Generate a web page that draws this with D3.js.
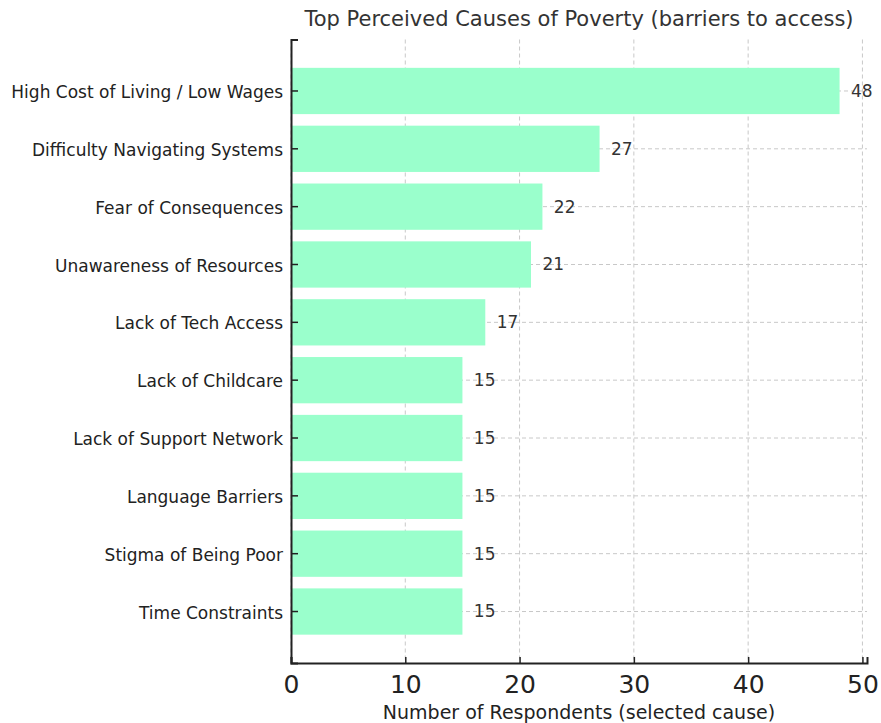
<!DOCTYPE html>
<html>
<head>
<meta charset="utf-8">
<script src="https://cdn.jsdelivr.net/npm/d3@7"></script>
<style>
  body { margin: 0; background: #fff; }
  text { font-family: "DejaVu Sans", sans-serif; }
</style>
</head>
<body>
<div id="graf"></div>
<script>
// data, top to bottom
const causes = [
  'High Cost of Living / Low Wages',
  'Difficulty Navigating Systems',
  'Fear of Consequences',
  'Unawareness of Resources',
  'Lack of Tech Access',
  'Lack of Childcare',
  'Lack of Support Network',
  'Language Barriers',
  'Stigma of Being Poor',
  'Time Constraints'
]
const respondents = [48, 27, 22, 21, 17, 15, 15, 15, 15, 15]
const xTicks = [0, 10, 20, 30, 40, 50]

const anchoTotal = 881
const altoTotal = 723
const margin = { top: 39.5, bottom: 60, left: 291, right: 14 }
const ancho = anchoTotal - margin.left - margin.right
const alto = altoTotal - margin.top - margin.bottom

const svg = d3.select('#graf')
  .append('svg')
  .attr('width', anchoTotal)
  .attr('height', altoTotal)

const g = svg.append('g')
  .attr('transform', `translate(${margin.left}, ${margin.top})`)

const x = d3.scaleLinear()
  .domain([0, 50.4])
  .range([0, ancho])

const y = d3.scaleBand()
  .domain(causes)
  .range([0, alto])
  .paddingInner(0.2)
  .paddingOuter(0.49)

// grid
g.append('g')
  .selectAll('line')
  .data(xTicks)
  .join('line')
  .attr('x1', d => x(d)).attr('x2', d => x(d))
  .attr('y1', 0).attr('y2', alto)
  .attr('stroke', '#c8c8c8')
  .attr('stroke-width', 1)
  .attr('stroke-dasharray', '4,3')

g.append('g')
  .selectAll('line')
  .data(causes)
  .join('line')
  .attr('x1', 0).attr('x2', ancho)
  .attr('y1', d => y(d) + y.bandwidth() / 2)
  .attr('y2', d => y(d) + y.bandwidth() / 2)
  .attr('stroke', '#c8c8c8')
  .attr('stroke-width', 1)
  .attr('stroke-dasharray', '4,3')

// bars
g.selectAll('rect')
  .data(causes)
  .join('rect')
  .attr('x', x(0))
  .attr('y', d => y(d))
  .attr('width', (d, i) => x(respondents[i]) - x(0))
  .attr('height', y.bandwidth())
  .attr('fill', '#9affcc')

// value labels
g.selectAll('text.valor')
  .data(causes)
  .join('text')
  .attr('class', 'valor')
  .attr('x', (d, i) => x(respondents[i] + 1))
  .attr('y', d => y(d) + y.bandwidth() / 2)
  .attr('dy', '0.35em')
  .attr('font-size', 17)
  .attr('fill', '#333')
  .text((d, i) => respondents[i])

// axes
const xAxisGroup = g.append('g')
  .attr('transform', `translate(0, ${alto})`)
  .call(d3.axisBottom(x).tickValues(xTicks).tickSize(-6).tickPadding(12))
xAxisGroup.select('.domain').attr('stroke', '#222').attr('stroke-width', 2)
xAxisGroup.selectAll('.tick line').attr('stroke', '#222').attr('stroke-width', 1.5)
xAxisGroup.selectAll('text')
  .attr('font-size', 25)
  .attr('fill', '#222')

const yAxisGroup = g.append('g')
  .call(d3.axisLeft(y).tickSize(-7).tickPadding(8))
yAxisGroup.select('.domain').attr('stroke', '#222').attr('stroke-width', 2)
yAxisGroup.selectAll('.tick line').attr('stroke', '#222').attr('stroke-width', 1.5)
yAxisGroup.selectAll('text')
  .attr('font-size', 17)
  .attr('dy', '0.42em')
  .attr('fill', '#222')

// titles
svg.append('text')
  .attr('x', margin.left + ancho / 2)
  .attr('y', 26)
  .attr('text-anchor', 'middle')
  .attr('font-size', 21)
  .attr('fill', '#333')
  .text('Top Perceived Causes of Poverty (barriers to access)')

svg.append('text')
  .attr('x', margin.left + ancho / 2)
  .attr('y', 719)
  .attr('text-anchor', 'middle')
  .attr('font-size', 19)
  .attr('fill', '#222')
  .text('Number of Respondents (selected cause)')
</script>
</body>
</html>
